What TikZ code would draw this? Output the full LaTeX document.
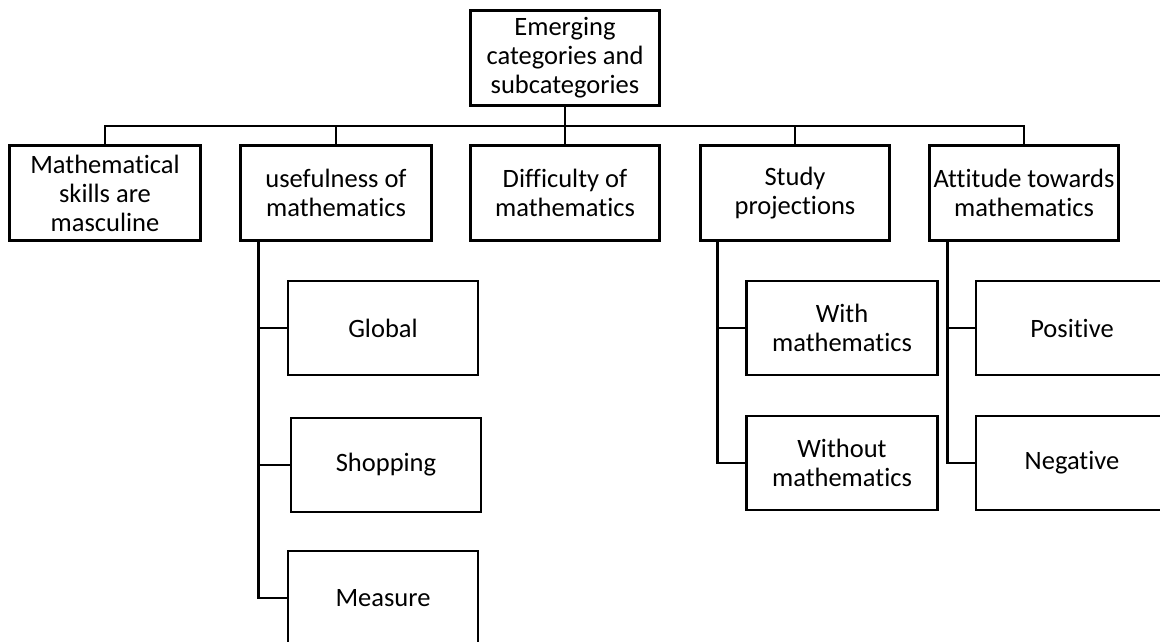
\documentclass[tikz,border=0pt]{standalone}
\usepackage{fontspec}
\setmainfont{Carlito}[Ligatures={NoCommon}]
\begin{document}
\begin{tikzpicture}[x=1pt,y=-1pt,
  box/.style={draw=black, line width=2.6pt, rectangle, inner sep=0pt, align=center,
    font=\fontsize{26.5}{29}\selectfont},
  conn/.style={draw=black, line width=2.6pt}]
\useasboundingbox (0,0) rectangle (1160,642);
\clip (0,0) rectangle (1160,642);
\fill[white] (0,0) rectangle (1160,642);
% top
\node[box, minimum width=189pt, minimum height=95pt] (top) at (565,58) {Emerging\\categories and\\subcategories};
% level 1
\node[box, minimum width=191pt, minimum height=95pt] (math) at (105,193) {Mathematical\\skills are\\masculine};
\node[box, minimum width=191pt, minimum height=95pt] (useful) at (336,193) {usefulness of\\mathematics};
\node[box, minimum width=189pt, minimum height=95pt] (diff) at (565,193) {Difficulty of\\mathematics};
\node[box, minimum width=189pt, minimum height=95pt] (study) at (795,193) {Study\\projections};
\node[box, minimum width=189pt, minimum height=95pt] (att) at (1024,193) {Attitude towards\\mathematics};
% level 2
\node[box, minimum width=190pt, minimum height=94pt] (global) at (383,328) {Global};
\node[box, minimum width=190pt, minimum height=94pt] (shop) at (386,465) {Shopping};
\node[box, minimum width=190pt, minimum height=94pt] (measure) at (383,598) {Measure};
\node[box, minimum width=191pt, minimum height=94pt] (with) at (842,328) {With\\mathematics};
\node[box, minimum width=191pt, minimum height=94pt] (without) at (842,463) {Without\\mathematics};
\node[box, minimum width=192pt, minimum height=94pt] (pos) at (1072,328) {Positive};
\node[box, minimum width=192pt, minimum height=94pt] (neg) at (1072,463) {Negative};
% bus
\coordinate (bus) at (565,126);
\draw[conn] (top.south) -- (diff.north);
\draw[conn] (math.north) |- (bus);
\draw[conn] (useful.north) |- (bus);
\draw[conn] (study.north) |- (bus);
\draw[conn] (att.north) |- (bus);
% subtrees
\draw[conn] ([xshift=19pt]useful.south west) |- (global.west);
\draw[conn] ([xshift=19pt]useful.south west) |- (shop.west);
\draw[conn] ([xshift=19pt]useful.south west) |- (measure.west);
\draw[conn] ([xshift=18pt]study.south west) |- (with.west);
\draw[conn] ([xshift=18pt]study.south west) |- (without.west);
\draw[conn] ([xshift=19pt]att.south west) |- (pos.west);
\draw[conn] ([xshift=19pt]att.south west) |- (neg.west);
\end{tikzpicture}
\end{document}
